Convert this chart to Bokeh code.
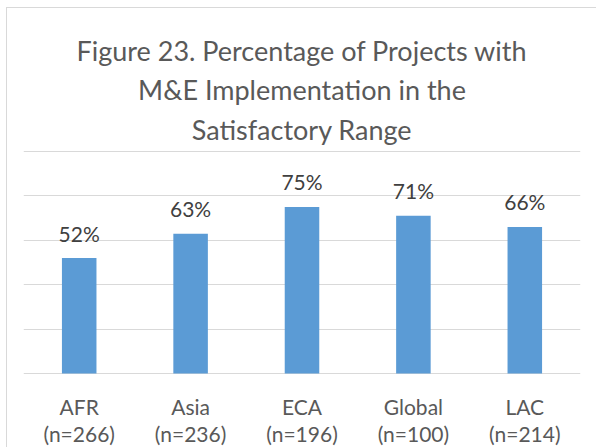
from bokeh.plotting import figure
from bokeh.models import (ColumnDataSource, FactorRange, Range1d, FixedTicker, LabelSet,
                          Title, InlineStyleSheet)
from bokeh.core.properties import value
from bokeh.embed import file_html
from bokeh.resources import INLINE

regions = ["AFR", "Asia", "ECA", "Global", "LAC"]
counts = ["(n=266)", "(n=236)", "(n=196)", "(n=100)", "(n=214)"]
values = [52, 63, 75, 71, 66]
labels = ["52%", "63%", "75%", "71%", "66%"]
title_lines = ["Figure 23. Percentage of Projects with",
               "M&E Implementation in the",
               "Satisfactory Range"]
y_ticks = [0, 20, 40, 60, 80, 100]

FONT = "Lato"
src = ColumnDataSource(dict(x=regions, top=values, lab=labels,
                            base=[0] * len(regions), cnt=counts))

# the frame continues below the 0 line so the two rows of category labels sit inside it
p = figure(x_range=FactorRange(*regions), y_range=Range1d(-33.8, 100.45), title=None,
           width=590, height=440, margin=(7, 0, 0, 6),
           output_backend="svg", toolbar_location=None,
           min_border_left=16, min_border_right=17, min_border_bottom=0, min_border_top=142)

for line, so in zip(reversed(title_lines), [9, 2, 5]):
    t = Title(text=line, align="center", text_font=FONT, text_font_size="27px",
              text_font_style="normal", text_color="#595959", standoff=so)
    p.add_layout(t, "above")

p.vbar(x="x", top="top", width=0.31, source=src, fill_color="#5B9BD5", line_color=None)

p.add_layout(LabelSet(x="x", y="top", text="lab", source=src, text_align="center",
                      text_baseline="middle", y_offset=25, text_font=value(FONT),
                      text_font_size=value("21px"), text_color=value("#404040")))

p.add_layout(LabelSet(x="x", y="base", text="x", source=src, text_align="center",
                      text_baseline="middle", y_offset=-33, text_font=value(FONT),
                      text_font_size=value("21px"), text_color=value("#595959")))
p.add_layout(LabelSet(x="x", y="base", text="cnt", source=src, text_align="center",
                      text_baseline="middle", y_offset=-60, text_font=value(FONT),
                      text_font_size=value("21px"), text_color=value("#595959")))

p.xaxis.visible = False
p.yaxis.visible = False
p.yaxis.ticker = FixedTicker(ticks=y_ticks)
p.ygrid.ticker = FixedTicker(ticks=y_ticks)
p.ygrid.grid_line_color = "#D9D9D9"
p.ygrid.grid_line_width = 1
p.xgrid.grid_line_color = None

p.outline_line_color = None
p.background_fill_color = "white"
p.border_fill_alpha = 0
p.stylesheets = [InlineStyleSheet(css=":host { border-left: 1px solid #D9D9D9; border-top: 1px solid #D9D9D9; }")]

open("out.html", "w").write(file_html(p, INLINE))
